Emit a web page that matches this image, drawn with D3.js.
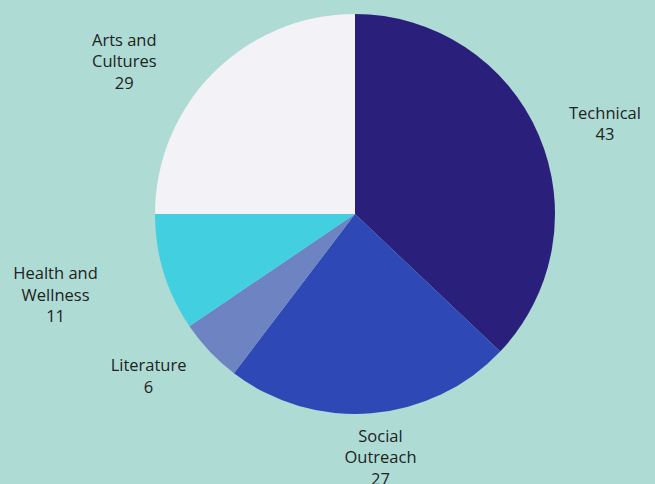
<!DOCTYPE html>
<html>
<head>
<meta charset="utf-8">
<script src="https://cdn.jsdelivr.net/npm/d3@7"></script>
<style>
  html, body { margin: 0; padding: 0; background: #aedcd5; overflow: hidden; }
</style>
</head>
<body>
<div id="chart"></div>
<script>
// slices, clockwise from 12 o'clock
const categories = ["Technical", "Social Outreach", "Literature", "Health and Wellness", "Arts and Cultures"];
const values = [43, 27, 6, 11, 29];
const labelLines = [["Technical"], ["Social", "Outreach"], ["Literature"], ["Health and", "Wellness"], ["Arts and", "Cultures"]];
const colors = ["#2b1f7c", "#2e48b5", "#6d83c2", "#42cfe0", "#f2f2f7"];

let w = 655, h = 484;
let cx = 355, cy = 214, r = 200;

// label placement (angle in degrees from top, distance from centre)
let labelSpots = [[70, 266], [174, 244], [232, 262], [255, 310], [303.6, 277]];

let data = categories.map((c, i) => ({ name: c, value: values[i], lines: labelLines[i], color: colors[i] }));

let svg = d3.select("#chart").append("svg")
    .attr("width", w).attr("height", h)
    .style("display", "block");

svg.append("rect").attr("width", w).attr("height", h).attr("fill", "#aedcd5");

let g = svg.append("g").attr("transform", `translate(${cx},${cy})`);

let pie = d3.pie().sort(null).value(d => d.value);
let arc = d3.arc().innerRadius(0).outerRadius(r);
let arcs = pie(data);

g.selectAll("path")
    .data(arcs).enter().append("path")
    .attr("d", arc)
    .attr("fill", d => d.data.color);

let lh = 21.5;
arcs.forEach((a, i) => {
    let [deg, dist] = labelSpots[i];
    let t = deg * Math.PI / 180;
    let x = dist * Math.sin(t), y = -dist * Math.cos(t);
    let lines = a.data.lines.concat([String(a.data.value)]);
    let txt = g.append("text")
        .attr("text-anchor", "middle")
        .style("font-family", "'Open Sans', sans-serif")
        .style("font-size", "16.5px")
        .attr("fill", "#222");
    lines.forEach((l, j) => {
        txt.append("tspan")
            .attr("x", x)
            .attr("y", y + (j - (lines.length - 1) / 2) * lh)
            .attr("dominant-baseline", "central")
            .text(l);
    });
});
</script>
</body>
</html>
